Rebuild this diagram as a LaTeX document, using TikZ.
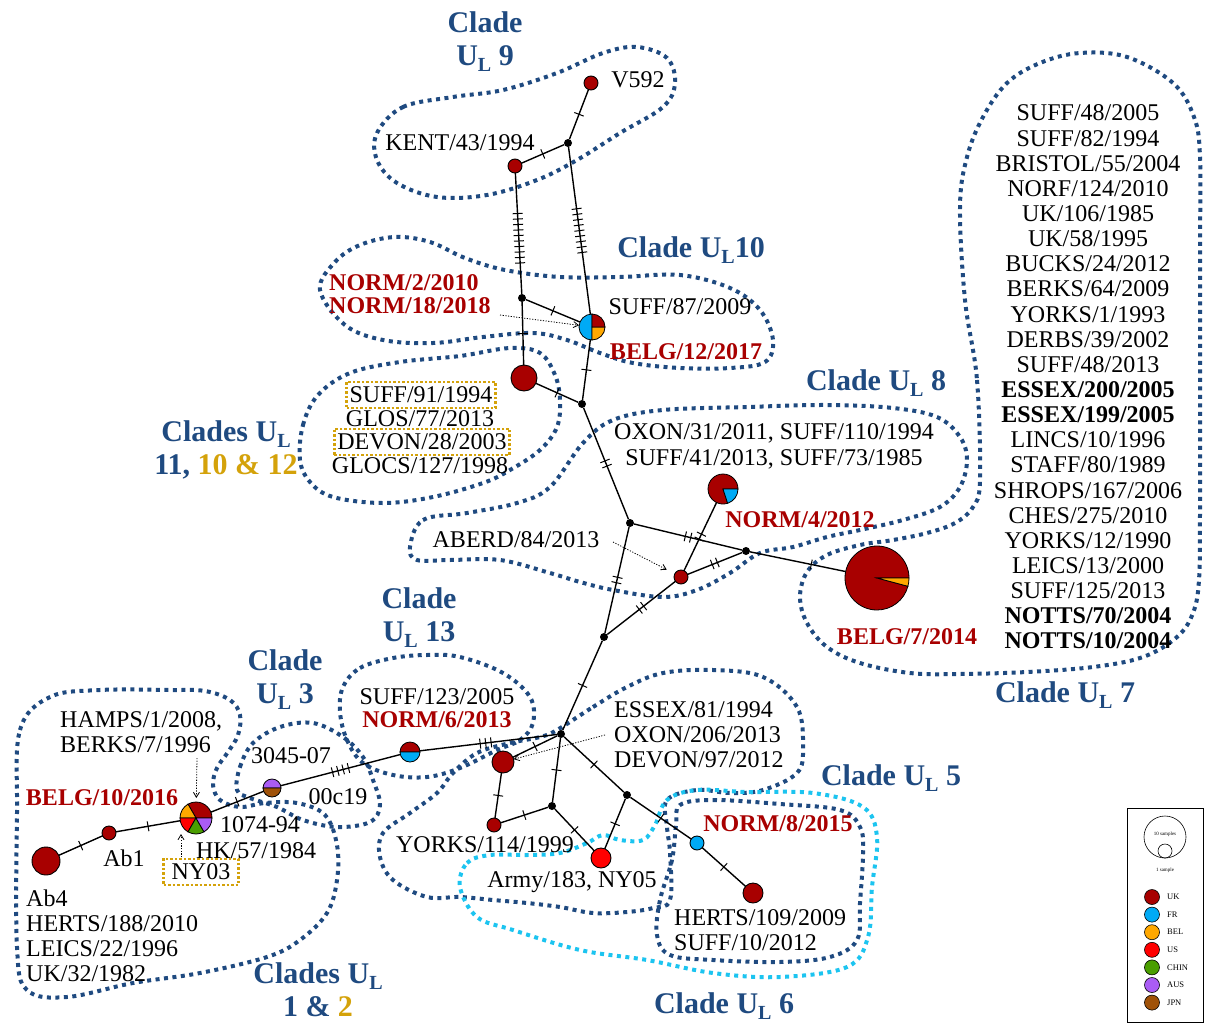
\documentclass[tikz,border=0pt]{standalone}
\usepackage{fontspec}
\setmainfont{Liberation Serif}
\usetikzlibrary{decorations.markings,arrows.meta}

\definecolor{uk}{HTML}{A80000}
\definecolor{fr}{HTML}{00AAF5}
\definecolor{bel}{HTML}{FFA800}
\definecolor{us}{HTML}{FF0000}
\definecolor{chin}{HTML}{4A9E00}
\definecolor{aus}{HTML}{AA5CF5}
\definecolor{jpn}{HTML}{A05208}
\definecolor{cladeblue}{HTML}{1F4A80}
\definecolor{cladecyan}{HTML}{1CC4F0}
\definecolor{gold}{HTML}{D4A20A}
\definecolor{labred}{HTML}{A80000}

\newcommand{\UL}{U\raisebox{-6pt}[0pt][0pt]{\fontsize{20}{20}\selectfont L}}
\newcommand{\hapslice}[5]{\filldraw[fill=#5, draw=black, line width=0.8pt] (#1) -- ++(#3:#2) arc[start angle=#3, end angle=#4, radius=#2] -- cycle;}

\tikzset{
  hap/.style={circle, draw, line width=0.9pt, fill=uk, inner sep=0pt, outer sep=0pt, minimum size=#1},
  hpie/.style={circle, inner sep=0pt, outer sep=0pt, minimum size=#1},
  jn/.style={circle, fill=black, inner sep=0pt, minimum size=8pt},
  link/.style={line width=1.4pt},
  mut/.style 2 args={postaction={decorate, decoration={markings, mark=at position #2 with {\foreach \k in {1,...,#1}{\draw[line width=1pt] ({(\k-(#1+1)/2)*5.5pt},-5pt) -- ++(0pt,10pt);}}}}},
  lab/.style={font=\fontsize{24}{25}\selectfont, inner sep=0pt, align=center},
  llab/.style={lab, align=left, anchor=west},
  nlab/.style={lab, font=\fontsize{24}{25}\selectfont\bfseries, text=labred},
  cl/.style={font=\fontsize{30}{33}\selectfont\bfseries, text=cladeblue, align=center, inner sep=0pt},
  clade/.style={draw=cladeblue, line width=4pt, dash pattern=on 4pt off 4.5pt},
  cladecy/.style={clade, draw=cladecyan},
  boxed/.style={draw=gold, line width=2.5pt, dash pattern=on 2.5pt off 2pt, inner xsep=3pt, inner ysep=5pt},
  ptr/.style={line width=0.8pt, dash pattern=on 1.2pt off 1.5pt, -{Straight Barb[length=5pt,width=6pt]}},
  keydot/.style={circle, draw, line width=0.6pt, inner sep=0pt, minimum size=15pt},
  keylab/.style={font=\fontsize{8.5}{9}\selectfont, anchor=west, inner sep=0pt}
}

\begin{document}
\begin{tikzpicture}[x=1pt, y=-1pt]
\useasboundingbox (0,0) rectangle (1208,1023);

% clade outlines
\draw[clade] plot[smooth cycle, tension=0.6] coordinates {(377,133) (403,107) (453,97) (503,90) (557,73) (603,53) (637,47) (667,58) (675,83) (663,107) (620,133) (577,160) (537,180) (487,195) (437,197) (397,183) (377,160)};
\draw[clade] plot[smooth cycle, tension=0.6] coordinates {(320,290) (335,262) (360,245) (395,237) (430,242) (465,258) (505,270) (560,277) (620,277) (680,275) (730,288) (760,310) (773,340) (765,362) (730,368) (680,368) (633,363) (600,353) (567,340) (533,333) (483,337) (433,343) (383,340) (345,325)};
\draw[clade] plot[smooth cycle, tension=0.6] coordinates {(300,460) (303,425) (318,395) (350,373) (400,362) (460,356) (510,348) (540,353) (555,375) (560,400) (557,427) (540,450) (510,470) (483,483) (433,497) (383,503) (333,497) (310,482)};
\draw[clade] plot[smooth cycle, tension=0.6] coordinates {(410,547) (423,520) (467,513) (517,503) (550,487) (583,443) (613,420) (663,410) (747,407) (827,405) (893,408) (937,417) (960,437) (967,460) (960,487) (940,507) (903,520) (860,530) (827,537) (793,547) (760,553) (730,573) (697,590) (663,597) (613,590) (580,582) (550,573) (500,560) (450,560) (417,560)};
\draw[clade] plot[smooth cycle, tension=0.6] coordinates {(965,300) (977,380) (980,480) (973,507) (955,523) (927,533) (893,540) (860,545) (827,555) (807,572) (800,597) (807,623) (827,647) (860,663) (910,673) (960,674) (1027,672) (1093,667) (1143,657) (1177,637) (1193,613) (1199,580) (1200,513) (1200,380) (1200,250) (1200,157) (1194,117) (1173,83) (1127,57) (1080,53) (1040,63) (1007,83) (983,117) (967,157) (960,207)};
\draw[clade] plot[smooth cycle, tension=0.6] coordinates {(343,687) (360,668) (393,658) (427,655) (460,657) (503,673) (530,697) (533,723) (520,740) (497,750) (460,768) (427,777) (393,775) (363,763) (347,740) (340,712)};
\draw[clade] plot[smooth cycle, tension=0.6] coordinates {(237,790) (240,767) (253,743) (280,727) (313,723) (343,737) (363,757) (373,780) (380,805) (370,822) (337,827) (303,820) (277,807) (250,798)};
\draw[clade] plot[smooth cycle, tension=0.6] coordinates {(17,813) (20,730) (50,697) (100,690) (170,690) (205,691) (230,700) (240,715) (238,735) (228,752) (217,768) (213,785) (220,800) (240,807) (265,803) (297,803) (325,815) (337,845) (337,880) (327,913) (300,940) (267,957) (200,973) (133,983) (67,997) (27,990) (17,947)};
\draw[clade] plot[smooth cycle, tension=0.6] coordinates {(557,730) (593,707) (627,687) (663,673) (713,670) (763,677) (797,707) (803,747) (797,773) (763,790) (730,793) (697,790) (667,800) (667,827) (670,853) (670,900) (653,908) (627,912) (593,913) (560,907) (527,903) (493,900) (460,897) (427,897) (393,880) (380,857) (383,833) (410,813) (437,793) (453,773) (477,753) (510,743) (540,737)};
\draw[clade] plot[smooth cycle, tension=0.6] coordinates {(680,805) (713,800) (780,804) (840,810) (860,827) (863,853) (860,903) (857,940) (830,957) (780,962) (713,960) (670,955) (657,935) (660,900) (672,860) (676,825)};
\draw[cladecy] plot[smooth cycle, tension=0.6] coordinates {(460,887) (467,863) (490,855) (527,855) (560,853) (587,843) (603,835) (620,840) (643,840) (655,825) (667,800) (697,790) (747,792) (813,793) (863,807) (877,837) (872,887) (868,937) (847,967) (780,977) (713,973) (647,960) (580,950) (513,930) (477,917)};

% haplotypes and median vectors
\node[hap=14pt] (v592) at (591,83) {};
\node[jn] (m1) at (568,143) {};
\node[hap=14pt] (kent) at (515,166) {};
\node[jn] (m2) at (522,298) {};
\node[hpie=26pt] (suff87) at (592,327) {};
\node[hap=26pt] (c) at (524,378) {};
\node[jn] (m3) at (582,404) {};
\node[jn] (m4) at (630,523) {};
\node[jn] (m5) at (746,551) {};
\node[hpie=30pt] (n4) at (723,489) {};
\node[hap=14pt] (g) at (681,577) {};
\node[hpie=64pt] (b7) at (877,578) {};
\node[jn] (m6) at (604,637) {};
\node[jn] (m7) at (561,734) {};
\node[hpie=20pt] (n6) at (410,752) {};
\node[hpie=18pt] (q) at (272,788) {};
\node[hpie=32pt] (r) at (196,818) {};
\node[hap=14pt] (ab1) at (109,833) {};
\node[hap=28pt] (ab4) at (46,861) {};
\node[hap=22pt] (j) at (503,762) {};
\node[hap=14pt] (o) at (494,825) {};
\node[jn] (m8) at (552,806) {};
\node[jn] (m9) at (627,795) {};
\node[hap=20pt, fill=us] (p) at (601,858) {};
\node[hap=14pt, fill=fr] (m) at (697,843) {};
\node[hap=20pt] (n) at (753,893) {};

% pie slices
\hapslice{suff87.center}{13pt}{90}{270}{fr}
\hapslice{suff87.center}{13pt}{270}{360}{bel}
\hapslice{suff87.center}{13pt}{0}{90}{uk}
\hapslice{n4.center}{15pt}{0}{288}{uk}
\hapslice{n4.center}{15pt}{288}{360}{fr}
\hapslice{b7.center}{32pt}{0}{345}{uk}
\hapslice{b7.center}{32pt}{345}{360}{bel}
\hapslice{n6.center}{10pt}{0}{180}{uk}
\hapslice{n6.center}{10pt}{180}{360}{fr}
\hapslice{q.center}{9pt}{0}{180}{aus}
\hapslice{q.center}{9pt}{180}{360}{jpn}
\hapslice{r.center}{16pt}{0}{120}{uk}
\hapslice{r.center}{16pt}{120}{180}{bel}
\hapslice{r.center}{16pt}{180}{240}{us}
\hapslice{r.center}{16pt}{240}{300}{chin}
\hapslice{r.center}{16pt}{300}{360}{aus}

% links with mutations
\draw[link, mut={1}{0.5}] (v592) -- (m1);
\draw[link, mut={1}{0.5}] (m1) -- (kent);
\draw[link, mut={10}{0.54}] (kent) -- (m2);
\draw[link, mut={9}{0.5}] (m1) -- (suff87);
\draw[link, mut={1}{0.5}] (m2) -- (suff87);
\draw[link, mut={1}{0.5}] (m2) -- (c);
\draw[link, mut={1}{0.5}] (suff87) -- (m3);
\draw[link, mut={1}{0.5}] (c) -- (m3);
\draw[link, mut={2}{0.5}] (m3) -- (m4);
\draw[link, mut={2}{0.5}] (m4) -- (m5);
\draw[link, mut={1}{0.64}] (m5) -- (b7);
\draw[link, mut={2}{0.5}] (g) -- (n4);
\draw[link, mut={2}{0.5}] (g) -- (m5);
\draw[link, mut={2}{0.5}] (g) -- (m6);
\draw[link, mut={2}{0.5}] (m4) -- (m6);
\draw[link, mut={1}{0.5}] (m6) -- (m7);
\draw[link, mut={3}{0.48}] (n6) -- (m7);
\draw[link, mut={4}{0.5}] (q) -- (n6);
\draw[link, mut={1}{0.5}] (r) -- (q);
\draw[link, mut={1}{0.5}] (ab1) -- (r);
\draw[link, mut={1}{0.5}] (ab4) -- (ab1);
\draw[link, mut={1}{0.5}] (m7) -- (j);
\draw[link, mut={1}{0.5}] (m7) -- (m8);
\draw[link, mut={1}{0.5}] (m7) -- (m9);
\draw[link, mut={1}{0.5}] (m9) -- (m);
\draw[link, mut={1}{0.5}] (m) -- (n);
\draw[link, mut={1}{0.5}] (j) -- (o);
\draw[link, mut={1}{0.5}] (o) -- (m8);
\draw[link, mut={1}{0.5}] (m8) -- (p);
\draw[link, mut={1}{0.5}] (m9) -- (p);

% pointers
\coordinate (p1) at (500,315);
\draw[ptr] (p1) -- (suff87);
\coordinate (p2) at (613,542);
\draw[ptr, shorten >=9pt] (p2) -- (g);
\coordinate (p3) at (197,758);
\draw[ptr, shorten >=4pt] (p3) -- (r);
\coordinate (p4) at (181,860);
\draw[ptr] (p4) -- (p4 |- r.south);
\coordinate (p5) at (605,735);
\draw[ptr] (p5) -- (j);

% labels
\node[cl] (c9) at (485,39) {Clade\\\UL\ 9};
\node[lab] (kentl) at (460,143) {KENT/43/1994};
\node[lab] (v592l) at (638,80) {V592};
\node[cl] (c10) at (691,247) {Clade \UL10};
\node[nlab, align=left, anchor=west, font=\fontsize{24}{23}\selectfont\bfseries] (norm2) at (329,294.5) {NORM/2/2010\\NORM/18/2018};
\node[lab] (suff87l) at (680,307) {SUFF/87/2009};
\node[nlab] (belg12) at (686,352) {BELG/12/2017};
\node[lab, boxed] (suff91) at (421,395) {SUFF/91/1994};
\node[lab] (glos77) at (420,419) {GLOS/77/2013};
\node[lab, boxed] (devon28) at (422,442) {DEVON/28/2003};
\node[lab] (glocs) at (420,466) {GLOCS/127/1998};
\node[cl] (c11) at (226,450) {Clades \UL\\11, \textcolor{gold}{10 \& 12}};
\node[cl] (c8) at (876,380) {Clade \UL\ 8};
\node[lab, font=\fontsize{24}{26}\selectfont] (oxon31) at (774,446) {OXON/31/2011, SUFF/110/1994\\SUFF/41/2013, SUFF/73/1985};
\node[nlab] (norm4) at (800,520) {NORM/4/2012};
\node[lab] (aberd) at (516,540) {ABERD/84/2013};
\node[nlab] (belg7) at (907,637) {BELG/7/2014};
\node[lab, font=\fontsize{24}{25.14}\selectfont] (c7list) at (1088,377) {SUFF/48/2005\\SUFF/82/1994\\BRISTOL/55/2004\\NORF/124/2010\\UK/106/1985\\UK/58/1995\\BUCKS/24/2012\\BERKS/64/2009\\YORKS/1/1993\\DERBS/39/2002\\SUFF/48/2013\\\textbf{ESSEX/200/2005}\\\textbf{ESSEX/199/2005}\\LINCS/10/1996\\STAFF/80/1989\\SHROPS/167/2006\\CHES/275/2010\\YORKS/12/1990\\LEICS/13/2000\\SUFF/125/2013\\\textbf{NOTTS/70/2004}\\\textbf{NOTTS/10/2004}};
\node[cl] (c7) at (1065,692) {Clade \UL\ 7};
\node[cl] (c13) at (419,615) {Clade\\\UL\ 13};
\node[cl] (c3) at (285,677) {Clade\\\UL\ 3};
\node[lab] (suff123) at (437,697) {SUFF/123/2005};
\node[nlab] (norm6) at (437,720) {NORM/6/2013};
\node[llab] (hamps) at (60,732.5) {HAMPS/1/2008,\\BERKS/7/1996};
\node[nlab] (belg10) at (102,798) {BELG/10/2016};
\node[lab] (l3045) at (291,756) {3045-07};
\node[lab] (l00c19) at (338,797) {00c19};
\node[lab] (l1074) at (260,825) {1074-94};
\node[lab] (hk57) at (256,851) {HK/57/1984};
\node[lab, boxed, inner xsep=8pt] (ny03) at (201,872) {NY03};
\node[lab] (ab1l) at (124,858) {Ab1};
\node[llab] (ab4l) at (26,935.5) {Ab4\\HERTS/188/2010\\LEICS/22/1996\\UK/32/1982};
\node[cl] (c12) at (318,990) {Clades \UL\\1 \& \textcolor{gold}{2}};
\node[llab] (essex81) at (614,735) {ESSEX/81/1994\\OXON/206/2013\\DEVON/97/2012};
\node[cl] (c5) at (891,775) {Clade \UL\ 5};
\node[lab] (yorks114) at (485,845) {YORKS/114/1999};
\node[lab] (army) at (572,882) {Army/183, NY05};
\node[nlab] (norm8) at (778,824) {NORM/8/2015};
\node[llab] (herts109) at (674,930.5) {HERTS/109/2009\\SUFF/10/2012};
\node[cl] (c6) at (724,1003) {Clade \UL\ 6};

% legend
\draw[line width=0.6pt] (1127,808) rectangle (1203,1022);
\node[circle, draw, line width=0.6pt, minimum size=42pt, inner sep=0pt] (k10) at (1165,837) {};
\node[circle, draw, line width=0.6pt, minimum size=14pt, inner sep=0pt] (k1) at (1165,851) {};
\node[font=\fontsize{5}{5}\selectfont, inner sep=0pt] (k10l) at (1165,834) {10 samples};
\node[font=\fontsize{5}{5}\selectfont, inner sep=0pt] (k1l) at (1165,870) {1 sample};
\foreach \c/\t [count=\i from 0] in {uk/UK, fr/FR, bel/BEL, us/US, chin/CHIN, aus/AUS, jpn/JPN} {
  \node[keydot, fill=\c] (key\i) at (1152,897+17.6*\i) {};
  \node[keylab] (keyl\i) at (1167,897+17.6*\i) {\t};
}
\end{tikzpicture}
\end{document}
